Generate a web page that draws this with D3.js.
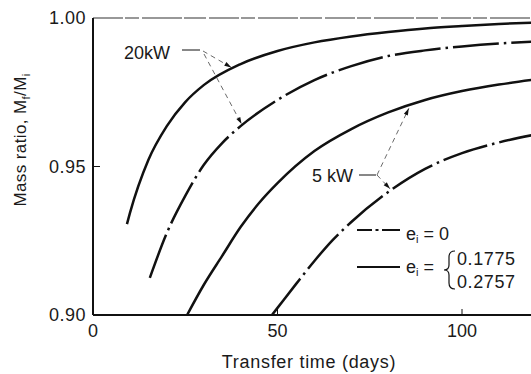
<!DOCTYPE html>
<html>
<head>
<meta charset="utf-8">
<script src="https://cdn.jsdelivr.net/npm/d3@7"></script>
<style>
  html, body { margin: 0; padding: 0; background: #fff; }
  svg { display: block; }
  text { font-family: "Liberation Sans", Arial, sans-serif; fill: #1a1a1a; }
</style>
</head>
<body>
<svg id="chart" width="531" height="374"></svg>
<script>
// Transfer time (days) and final/initial mass ratio for each case
const days20Solid  = [9.2, 10, 15, 20, 25, 30, 40, 50, 60, 70, 80, 90, 100, 110, 120];
const ratio20Solid = [0.9306, 0.9343, 0.9522, 0.9636, 0.9717, 0.9774, 0.9845, 0.9889, 0.9918, 0.9938, 0.9953, 0.9965, 0.9973, 0.9980, 0.9985];

const days20Dash   = [15.4, 20, 25, 30, 35, 40, 50, 60, 70, 80, 90, 100, 110, 120];
const ratio20Dash  = [0.9125, 0.9276, 0.9401, 0.9505, 0.9579, 0.9636, 0.9724, 0.9791, 0.9838, 0.9872, 0.9891, 0.9904, 0.9914, 0.9921];

const days5Solid   = [25.5, 30, 35, 40, 45, 50, 60, 70, 80, 90, 100, 110, 120];
const ratio5Solid  = [0.9000, 0.9101, 0.9199, 0.9296, 0.9377, 0.9444, 0.9552, 0.9626, 0.9682, 0.9724, 0.9754, 0.9776, 0.9793];

const days5Dash    = [48.5, 50, 55, 60, 65, 70, 80, 90, 100, 110, 120];
const ratio5Dash   = [0.9000, 0.9024, 0.9104, 0.9182, 0.9253, 0.9313, 0.9414, 0.9492, 0.9545, 0.9581, 0.9608];

const xTicks = [0, 50, 100];
const xTickLabels = ["0", "50", "100"];
const yTicks = [0.90, 0.95, 1.00];
const yTickLabels = ["0.90", "0.95", "1.00"];

const svg = d3.select("#chart");
const x = d3.scaleLinear().domain([0, 100]).range([93, 462]);
const y = d3.scaleLinear().domain([0.90, 1.00]).range([315, 18]);

const ink = "#111";

// frame: solid left and bottom axes, faint broken top edge
svg.append("line").attr("x1", x(0)).attr("x2", 531).attr("y1", y(1.0)).attr("y2", y(1.0))
  .attr("stroke", "#777").attr("stroke-width", 1.3).attr("stroke-dasharray", "30,2,14,3,40,2,22,3");
svg.append("line").attr("x1", x(0)).attr("x2", x(0)).attr("y1", y(1.0)).attr("y2", y(0.90))
  .attr("stroke", ink).attr("stroke-width", 2);
svg.append("line").attr("x1", x(0)).attr("x2", 531).attr("y1", y(0.90)).attr("y2", y(0.90))
  .attr("stroke", ink).attr("stroke-width", 2);

// inward tick marks
svg.selectAll(".xt").data(xTicks.filter(d => d > 0)).enter().append("line")
  .attr("x1", d => x(d)).attr("x2", d => x(d)).attr("y1", y(0.90)).attr("y2", y(0.90) - 6)
  .attr("stroke", ink).attr("stroke-width", 1);
svg.selectAll(".yt").data(yTicks.filter(d => d > 0.9 && d < 1)).enter().append("line")
  .attr("x1", x(0)).attr("x2", x(0) + 7).attr("y1", d => y(d)).attr("y2", d => y(d))
  .attr("stroke", ink).attr("stroke-width", 1);

// tick labels
svg.selectAll(".xl").data(xTicks).enter().append("text")
  .attr("x", d => x(d)).attr("y", 337).attr("text-anchor", "middle")
  .attr("font-size", 18).text((d, i) => xTickLabels[i]);
svg.selectAll(".yl").data(yTicks).enter().append("text")
  .attr("x", 86).attr("y", d => y(d) + 6).attr("text-anchor", "end")
  .attr("font-size", 18).attr("letter-spacing", 0.5).text((d, i) => yTickLabels[i]);

// axis titles
svg.append("text").attr("x", 309).attr("y", 368).attr("text-anchor", "middle")
  .attr("font-size", 18).attr("letter-spacing", 0.7).text("Transfer time (days)");
const yt = svg.append("text").attr("transform", "translate(26,140) rotate(-90)")
  .attr("text-anchor", "middle").attr("font-size", 17).attr("letter-spacing", 0.4);
yt.append("tspan").text("Mass ratio, M");
yt.append("tspan").attr("font-size", 11).attr("dy", 4).text("f");
yt.append("tspan").attr("dy", -4).text("/M");
yt.append("tspan").attr("font-size", 11).attr("dy", 4).text("i");

// curves
const line = d3.line().x(d => x(d[0])).y(d => y(d[1])).curve(d3.curveMonotoneX);
const series = [
  { d: days20Solid, r: ratio20Solid, dash: null },
  { d: days20Dash,  r: ratio20Dash,  dash: "46,5,2.5,5" },
  { d: days5Solid,  r: ratio5Solid,  dash: null },
  { d: days5Dash,   r: ratio5Dash,   dash: "46,5,2.5,5" }
];
series.forEach(s => {
  svg.append("path").datum(d3.zip(s.d, s.r)).attr("d", line)
    .attr("fill", "none").attr("stroke", ink).attr("stroke-width", 2.5)
    .attr("stroke-dasharray", s.dash);
});

// power labels with leader lines
function leader(x1, y1, x2, y2) {
  svg.append("line").attr("x1", x1).attr("y1", y1).attr("x2", x2).attr("y2", y2)
    .attr("stroke", "#444").attr("stroke-width", 0.8).attr("stroke-dasharray", "5,4");
  const a = Math.atan2(y2 - y1, x2 - x1);
  const L = 7, W = 2.2;
  const p = [
    [x2, y2],
    [x2 - L * Math.cos(a) + W * Math.sin(a), y2 - L * Math.sin(a) - W * Math.cos(a)],
    [x2 - L * Math.cos(a) - W * Math.sin(a), y2 - L * Math.sin(a) + W * Math.cos(a)]
  ];
  svg.append("path").attr("d", "M" + p.join("L") + "Z").attr("fill", ink);
}
svg.append("text").attr("x", 124).attr("y", 59).attr("font-size", 18).text("20kW");
svg.append("line").attr("x1", 182).attr("x2", 200).attr("y1", 50).attr("y2", 50)
  .attr("stroke", ink).attr("stroke-width", 1);
leader(203, 51, x(37.5), y(0.9830) - 1);
leader(204, 54, x(40.0) + 1, y(0.9636) - 2);

svg.append("text").attr("x", 312).attr("y", 182).attr("font-size", 18).text("5 kW");
svg.append("line").attr("x1", 359).attr("x2", 376).attr("y1", 175).attr("y2", 175)
  .attr("stroke", ink).attr("stroke-width", 1);
leader(377, 175, x(85.6), y(0.9706) + 3);
leader(377, 175, x(80.5), y(0.9418) - 2);

// legend
const lg = svg.append("g");
lg.append("line").attr("x1", 357).attr("x2", 400).attr("y1", 230).attr("y2", 230)
  .attr("stroke", ink).attr("stroke-width", 2.2).attr("stroke-dasharray", "15,3.5,3,3.5,20");
lg.append("line").attr("x1", 357).attr("x2", 400).attr("y1", 267).attr("y2", 267)
  .attr("stroke", ink).attr("stroke-width", 2.2);
const t1 = lg.append("text").attr("x", 406).attr("y", 240).attr("font-size", 18);
t1.append("tspan").text("e");
t1.append("tspan").attr("font-size", 11).attr("dy", 3).text("i");
t1.append("tspan").attr("dy", -3).text(" = 0");
const t2 = lg.append("text").attr("x", 406).attr("y", 273).attr("font-size", 18);
t2.append("tspan").text("e");
t2.append("tspan").attr("font-size", 11).attr("dy", 3).text("i");
t2.append("tspan").attr("dy", -3).text(" =");
// curly brace grouping the two eccentricities
lg.append("path")
  .attr("d", "M455,251 Q449,251 449,257 L449,265 Q449,270 444,270 Q449,270 449,275 L449,283 Q449,289 455,289")
  .attr("fill", "none").attr("stroke", ink).attr("stroke-width", 1.2);
lg.append("text").attr("x", 457).attr("y", 265).attr("font-size", 18).attr("letter-spacing", 0.6).text("0.1775");
lg.append("text").attr("x", 457).attr("y", 288).attr("font-size", 18).attr("letter-spacing", 0.6).text("0.2757");
</script>
</body>
</html>
